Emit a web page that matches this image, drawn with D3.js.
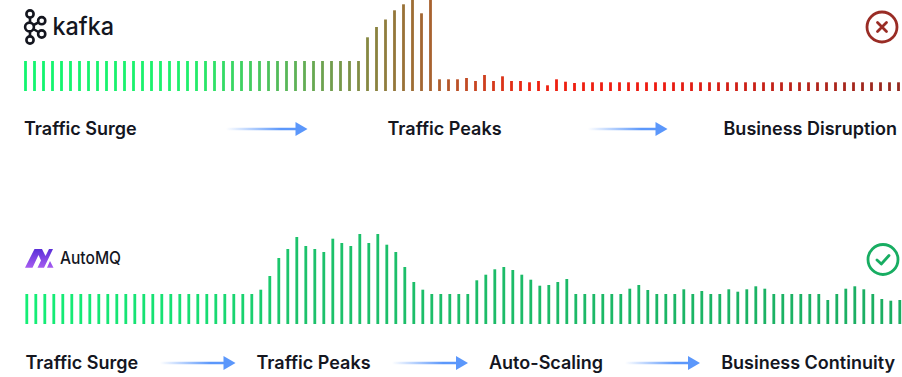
<!DOCTYPE html>
<html lang="en">
<head>
  <meta charset="UTF-8">
  <title>Traffic Surge: Kafka vs AutoMQ</title>
  <script src="https://d3js.org/d3.v7.min.js"></script>
  <style>
    html, body { margin: 0; padding: 0; background: #fff; overflow: hidden; }
    text { font-family: Inter, "Noto Sans", sans-serif; fill: #14161f; }
    .step { font-size: 18px; font-weight: 600; }
  </style>
</head>
<body>
  <div id="chart"></div>

  <script type="text/javascript">

  // bar heights
  var kafkaTraffic = [
    30,30,30,30,30,30,30,30,30,30,30,30,30,30,30,30,30,30,30,30,
    30,30,30,30,30,30,30,30,30,30,30,30,30,30,30,30,30,30,53.7,64,
    71.5,80.7,86.7,92,77.7,92,11.7,11.7,11.7,13,10,16,10,14.7,10,10,8.7,10,5.7,11.7,
    9.3,8,8.7,8.7,8.7,8.7,8.7,8.7,8.7,8.7,8.7,8.7,8.7,8.7,8.7,8.7,8.7,8.7,8.7,8.7,
    8.7,8.7,8.7,8.7,8.7,8.7,8.7,8.7,8.7,8.7,8.7,8.7,8.7,8.7,8.7,8.7,8.7,8.7
  ];
  var automqTraffic = [
    30,30,30,30,30,30,30,30,30,30,30,30,30,30,30,30,30,30,30,30,
    30,30,30,30,30,30,34.3,48,66,75,87,78,75,72,85.3,81,78,90,81,90,
    79.3,72,57,42,34.3,30,30,30,30,30,43.7,49.3,54.7,57,54,49.3,44.3,38.3,39,42,
    45,30,30,30,30,30,30,35.3,39,34,30,30,30,34.7,30,33,30,30,34.7,32.3,
    34.7,37.7,35.3,30,30,30,30,30,30,24,30,35.3,37.7,34.7,30,25,23.3,24
  ];

  var kafkaSteps = ["Traffic Surge", "Traffic Peaks", "Business Disruption"];
  var automqSteps = ["Traffic Surge", "Traffic Peaks", "Auto-Scaling", "Business Continuity"];

  var kafkaColorStops = [0, 18, 31, 45, 56, 70, 97];
  var kafkaColors = ["#12f56f", "#1ff06c", "#63ad55", "#a8622f", "#ee2210", "#ee1a10", "#93291f"];
  var automqColorStops = [0, 20, 30, 97];
  var automqColors = ["#14ee76", "#17dc72", "#1cc26b", "#1bae62"];

  var w = 902, h = 377;

  var svg = d3.select("#chart").append("svg")
    .attr("width", w)
    .attr("height", h)
    .style("display", "block");

  var defs = svg.append("defs");
  var arrowFill = defs.append("linearGradient")
    .attr("id", "arrowFill");
  arrowFill.append("stop").attr("offset", "0").attr("stop-color", "#5b97fb").attr("stop-opacity", 0);
  arrowFill.append("stop").attr("offset", "0.75").attr("stop-color", "#5b97fb");

  function drawBars(values, x0, baseline, barW, stops, colors) {
    // bar centres sit 9px apart
    var xScale = d3.scaleLinear()
      .domain([0, values.length - 1])
      .range([x0, x0 + 9 * (values.length - 1)]);
    var yScale = d3.scaleLinear().domain([0, 92]).range([baseline, baseline - 92]);
    var color = d3.scaleLinear().domain(stops).range(colors);

    svg.append("g").selectAll("rect")
      .data(values)
      .enter()
      .append("rect")
      .attr("x", (d, i) => xScale(i) - barW / 2)
      .attr("y", d => yScale(d))
      .attr("width", barW)
      .attr("height", d => baseline - yScale(d))
      .attr("fill", (d, i) => color(i));
  }

  function drawArrow(x1, x2, y) {
    var g = svg.append("g");
    // a rect and not a line: a flat line gets no gradient box
    g.append("rect")
      .attr("x", x1).attr("y", y - 1.25)
      .attr("width", x2 - x1 - 8).attr("height", 2.5)
      .attr("fill", "url(#arrowFill)");
    g.append("path")
      .attr("d", d3.line()([[x2 - 12, y - 7], [x2, y], [x2 - 12, y + 7]]) + "Z")
      .attr("fill", "#5b97fb");
  }

  function drawSteps(labels, xs, anchors, y) {
    svg.append("g").selectAll("text")
      .data(labels)
      .enter()
      .append("text")
      .attr("class", "step")
      .attr("x", (d, i) => xs[i])
      .attr("y", y)
      .attr("text-anchor", (d, i) => anchors[i])
      .text(d => d);
  }

  function drawKafkaLogo(g) {
    var nodes = [[30, 14, 3.6], [30, 40, 3.6], [29.5, 27, 4.4], [41.7, 20.7, 3.6], [41.7, 34, 3.6]];
    g.append("path")
      .attr("d", "M30 17V37M30 27L41.7 20.7M30 27L41.7 34")
      .attr("stroke", "#14161f").attr("stroke-width", 2.6).attr("fill", "none");
    g.selectAll("circle")
      .data(nodes)
      .enter()
      .append("circle")
      .attr("cx", d => d[0]).attr("cy", d => d[1]).attr("r", d => d[2])
      .attr("fill", "#fff").attr("stroke", "#14161f").attr("stroke-width", 2.6);
    g.append("text")
      .attr("x", 52.5).attr("y", 35)
      .attr("font-size", 24.5).attr("font-weight", 500)
      .attr("textLength", 61.5).attr("lengthAdjust", "spacingAndGlyphs")
      .text("kafka");
  }

  function drawAutomqLogo(g) {
    var grad = defs.append("linearGradient")
      .attr("id", "mqFill").attr("x1", 0).attr("y1", 0).attr("x2", 0).attr("y2", 1);
    grad.append("stop").attr("offset", "0").attr("stop-color", "#5a2fd8");
    grad.append("stop").attr("offset", "1").attr("stop-color", "#a65cf0");
    g.append("path")
      .attr("d", "M25 267.7L34.5 249H42L45.5 256L49 249H53L44 267.7H37.5L41 260.5L38.5 255L32.5 267.7ZM47 267.7L50 261L53.5 267.7Z")
      .attr("fill", "url(#mqFill)");
    g.append("text")
      .attr("x", 60).attr("y", 264.3)
      .attr("font-size", 17.5).attr("font-weight", 500)
      .attr("textLength", 61).attr("lengthAdjust", "spacingAndGlyphs")
      .text("AutoMQ");
  }

  function drawStatus(cx, cy, r, col, mark) {
    var g = svg.append("g");
    g.append("circle")
      .attr("cx", cx).attr("cy", cy).attr("r", r)
      .attr("fill", "none").attr("stroke", col).attr("stroke-width", 2.8);
    g.append("path")
      .attr("d", mark)
      .attr("fill", "none").attr("stroke", col).attr("stroke-width", 2.8)
      .attr("stroke-linecap", "round").attr("stroke-linejoin", "round");
  }

  drawBars(kafkaTraffic, 25.5, 91, 2.8, kafkaColorStops, kafkaColors);
  drawBars(automqTraffic, 26.8, 324, 2.8, automqColorStops, automqColors);

  drawSteps(kafkaSteps, [24, 387.5, 897], ["start", "start", "end"], 135);
  drawSteps(automqSteps, [25.5, 256.5, 489, 895], ["start", "start", "start", "end"], 369);

  drawArrow(226, 307.5, 129);
  drawArrow(588, 667.5, 129);
  drawArrow(160, 235.5, 363);
  drawArrow(392, 468, 363);
  drawArrow(625, 700, 363);

  drawKafkaLogo(svg.append("g"));
  drawAutomqLogo(svg.append("g"));

  drawStatus(882, 27, 15, "#992c25", "M877.5 22.5L886.5 31.5M886.5 22.5L877.5 31.5");
  drawStatus(883, 259.5, 15, "#18ad62", "M877 260L881.3 264L889 255.5");

  </script>
</body>
</html>
